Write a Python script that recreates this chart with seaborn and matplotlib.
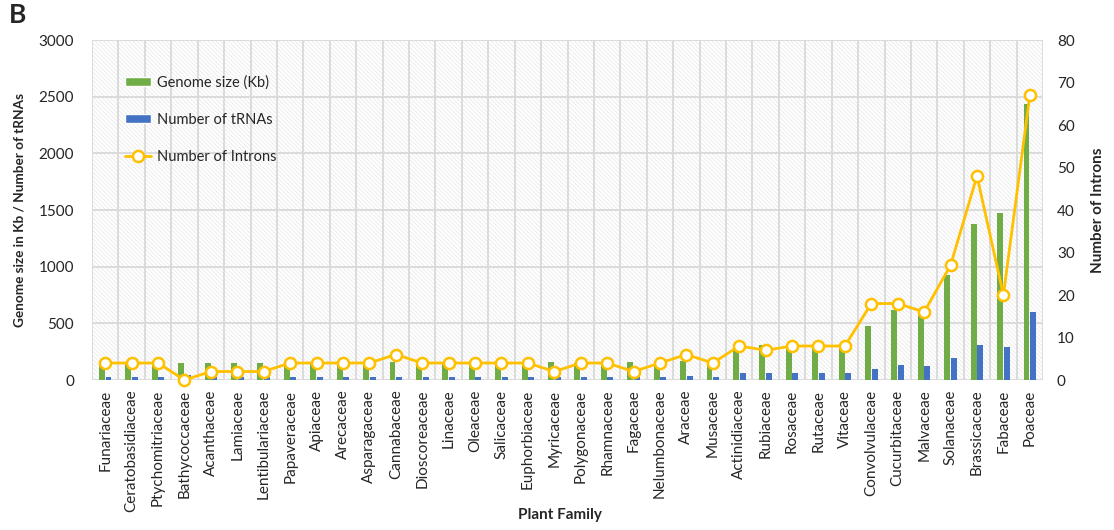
import numpy as np
import pandas as pd
import seaborn as sns
import matplotlib.pyplot as plt
from matplotlib.patches import Rectangle, Patch
from matplotlib.lines import Line2D

# data
families = ['Funariaceae', 'Ceratobasidiaceae', 'Ptychomitriaceae', 'Bathycoccaceae',
            'Acanthaceae', 'Lamiaceae', 'Lentibulariaceae', 'Papaveraceae', 'Apiaceae',
            'Arecaceae', 'Asparagaceae', 'Cannabaceae', 'Dioscoreaceae', 'Linaceae',
            'Oleaceae', 'Salicaceae', 'Euphorbiaceae', 'Myricaceae', 'Polygonaceae',
            'Rhamnaceae', 'Fagaceae', 'Nelumbonaceae', 'Araceae', 'Musaceae',
            'Actinidiaceae', 'Rubiaceae', 'Rosaceae', 'Rutaceae', 'Vitaceae',
            'Convolvulaceae', 'Cucurbitaceae', 'Malvaceae', 'Solanaceae',
            'Brassicaceae', 'Fabaceae', 'Poaceae']
genome_kb = [125, 137, 140, 150, 150, 150, 150, 137, 140, 140, 140, 155, 155, 140,
             140, 140, 140, 155, 150, 150, 160, 155, 165, 160, 300, 305, 300, 300,
             300, 478, 620, 630, 929, 1378, 1472, 2434]
trnas = [30, 30, 30, 40, 30, 30, 30, 30, 30, 30, 30, 30, 30, 30, 30, 30, 30, 30,
         30, 30, 30, 30, 35, 30, 65, 65, 65, 65, 65, 100, 133, 127, 197, 307, 295, 596]
introns = [4, 4, 4, 0, 2, 2, 2, 4, 4, 4, 4, 6, 4, 4, 4, 4, 4, 2, 4, 4, 2, 4, 6, 4,
           8, 7, 8, 8, 8, 18, 18, 16, 27, 48, 20, 67]

green = '#70AD47'
blue = '#4472C4'
yellow = '#FFC000'

sns.set_theme(style='white')
plt.rcParams['font.family'] = ['Lato', 'DejaVu Sans']
plt.rcParams['hatch.linewidth'] = 0.5

df = pd.DataFrame({'Family': families,
                   'Genome size (Kb)': genome_kb,
                   'Number of tRNAs': trnas})
long_df = df.melt(id_vars='Family', var_name='series', value_name='value')

fig = plt.figure(figsize=(11.14, 5.30), dpi=100)
ax = fig.add_axes([0.0826, 0.283, 0.8537, 0.6415])

# fine hatched background like the excel chart
ax.add_patch(Rectangle((0, 0), 1, 1, transform=ax.transAxes, facecolor='white',
                       edgecolor='#e6e6e6', hatch='\\' * 8, linewidth=0, zorder=0))

sns.barplot(data=long_df, x='Family', y='value', hue='series',
            palette=[green, blue], saturation=1, width=0.5, gap=0.1,
            linewidth=0, legend=False, ax=ax, zorder=3)

ax2 = ax.twinx()
sns.lineplot(x=families, y=introns, sort=False, ax=ax2, color=yellow, lw=2,
             marker='o', markersize=8, markerfacecolor='white',
             markeredgecolor=yellow, markeredgewidth=1.8, clip_on=False, zorder=4)

n = len(families)
ax.set_xlim(-0.5, n - 0.5)
ax.set_ylim(0, 3000)
ax.set_yticks(np.arange(0, 3001, 500))
ax.set_xticks(np.arange(n))
ax.set_xticklabels(families, rotation=90, fontsize=11)
ax.set_xticks(np.arange(-0.5, n, 1), minor=True)
ax.tick_params(axis='x', which='major', length=0, pad=7)
ax.tick_params(axis='x', which='minor', length=5, color='#d9d9d9', width=1.2)
ax.tick_params(axis='y', length=0, labelsize=11, pad=13)
ax.yaxis.grid(True, color='#d9d9d9', lw=1.3)
ax.grid(which='minor', axis='x', color='#d9d9d9', lw=1.3)
ax.set_axisbelow(True)
ax.set_xlabel('')

ax2.set_ylim(0, 80)
ax2.set_yticks(np.arange(0, 81, 10))
ax2.tick_params(axis='y', length=0, labelsize=11, pad=10)

for a in (ax, ax2):
    for s in a.spines.values():
        s.set_visible(False)

ax.set_ylabel('Genome size in Kb / Number of tRNAs', fontsize=9.8, fontweight='bold', labelpad=9)
ax2.set_ylabel('Number of Introns', fontsize=11, fontweight='bold', labelpad=12)
fig.text(0.503, 0.028, 'Plant Family', fontsize=11, fontweight='bold', ha='center', va='center')

handles = [Patch(facecolor=green), Patch(facecolor=blue),
           Line2D([], [], color=yellow, lw=2, marker='o', markersize=8,
                  markerfacecolor='white', markeredgecolor=yellow, markeredgewidth=1.8)]
labels = ['Genome size (Kb)', 'Number of tRNAs', 'Number of Introns']
ax2.legend(handles, labels, loc='upper left', bbox_to_anchor=(0.021, 0.935),
           frameon=False, fontsize=10.5, handlelength=1.8, handleheight=0.55,
           labelspacing=1.6, handletextpad=0.4)

fig.text(0.008, 0.995, 'B', fontsize=19, fontweight='bold', va='top', ha='left')

plt.savefig('out.png', dpi=100)
